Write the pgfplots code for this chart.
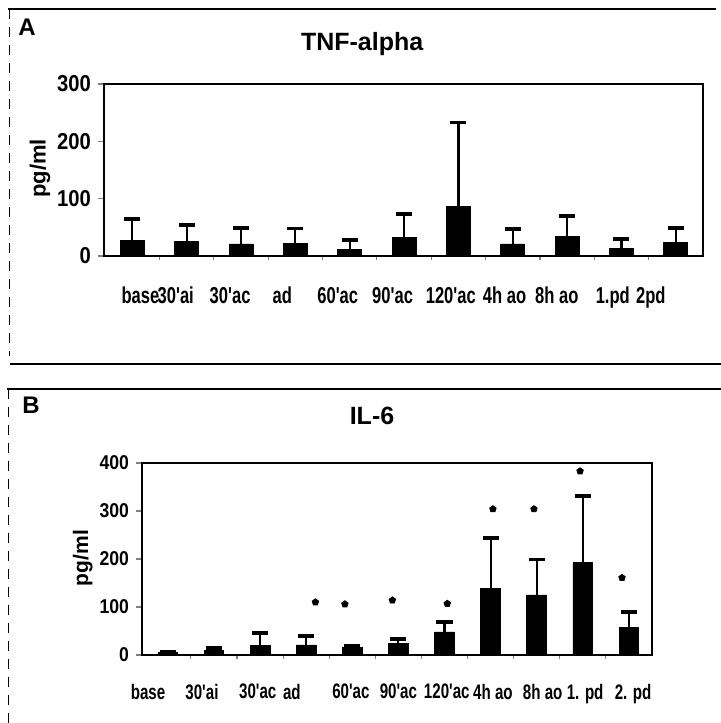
\documentclass[border=0pt]{standalone}
\usepackage{fontspec}
\setmainfont{Liberation Sans}
\newfontfamily\xtickfont{Liberation Sans}[FakeStretch=0.72]
\newfontfamily\ytickfont{Liberation Sans}[FakeStretch=0.88]
\usepackage{pgfplots}
\pgfplotsset{compat=1.18}

\pgfplotsset{
  every axis title shift=0pt,
  panel/.style={
    scale only axis, anchor=south west,
    ymin=0, tick align=outside, ytick pos=left, xtick pos=bottom,
    major x tick style={draw=none},
    major tick length=3pt, minor tick length=2pt,
    minor xtick={0.5,1.5,...,9.5},
    axis line style={line width=1.1pt},
    tick style={line width=0.6pt},
    /pgf/number format/assume math mode=true,
    title style={anchor=center, font=\bfseries\fontsize{12.5}{13}\selectfont},
    ylabel style={anchor=center, font=\bfseries\fontsize{11}{12}\selectfont},
  },
  meanbar/.style={ybar, bar shift=0pt, fill=black, draw=black,
    error bars/.cd, y dir=plus, y explicit,
    error bar style={line width=1.1pt},
    error mark options={rotate=90, mark size=4pt, line width=1.9pt},
    /pgfplots/.cd},
}

\begin{document}
\begin{tikzpicture}
\useasboundingbox (0,0) rectangle (360.5pt,361.5pt);

% frame lines and panel letters, in pixel units of the original
\begin{scope}[x=0.5pt, y=-0.5pt, shift={(0pt,361.5pt)}]
  \draw[line width=0.6pt] (8,9) -- (716,9);
  \draw[line width=0.4pt, dash pattern=on 5pt off 4pt] (9,9) -- (9,356);
  \draw[line width=0.9pt] (10,364) -- (721,364);
  \draw[line width=0.9pt] (7,389) -- (721,389);
  \draw[line width=0.4pt, dash pattern=on 5pt off 4pt] (8,389) -- (8,723);
  \node[font=\bfseries\fontsize{12}{12}\selectfont] at (27,27) {A};
  \node[font=\bfseries\fontsize{12}{12}\selectfont] at (31,405) {B};
\end{scope}

% panel A: TNF-alpha
\begin{axis}[panel,
  at={(52pt,233.5pt)}, width=299.5pt, height=86pt,
  xmin=-0.52, xmax=10.5, ymax=300, ytick={0,100,200,300},
  xtick={0.15,0.80,1.80,2.76,3.78,4.79,5.86,6.85,7.81,8.84,9.54},
  xticklabels={base,30'ai,30'ac,ad,60'ac,90'ac,120'ac,4h ao,8h ao,1.pd,2pd},
  xticklabel style={font=\xtickfont\bfseries\fontsize{11.5}{12}\selectfont, yshift=-9pt},
  yticklabel style={font=\ytickfont\bfseries\fontsize{11.5}{12}\selectfont},
  title={TNF-alpha}, title style={at={(axis description cs:0.431,1.233)}},
  ylabel={pg/ml}, ylabel style={at={(axis description cs:-0.107,0.51)}},
]
\addplot[meanbar, bar width=0.44] coordinates {
  (0,27) +- (0,38)
  (1,25) +- (0,29)
  (2,21) +- (0,28)
  (3,22) +- (0,26)
  (4,12) +- (0,16)
  (5,33) +- (0,40)
  (6,86) +- (0,147)
  (7,21) +- (0,26)
  (8,34) +- (0,36)
  (9,13) +- (0,17)
  (10,24) +- (0,25)
};
\end{axis}

% panel B: IL-6
\begin{axis}[panel,
  at={(71pt,34pt)}, width=255pt, height=96pt,
  xmin=-0.56, xmax=10.5, ymax=400, ytick={0,100,200,300,400},
  xtick={-0.43,0.74,1.95,2.69,3.97,5.0,6.05,7.05,8.13,9.05,10.09},
  xticklabels={base,30'ai,30'ac,ad,60'ac,90'ac,120'ac,4h ao,8h ao,1. pd,2. pd},
  xticklabel style={font=\xtickfont\bfseries\fontsize{10.5}{11}\selectfont, yshift=-8pt},
  yticklabel style={font=\ytickfont\bfseries\fontsize{10}{11}\selectfont},
  title={IL-6}, title style={at={(axis description cs:0.451,1.245)}},
  ylabel={pg/ml}, ylabel style={at={(axis description cs:-0.116,0.505)},
    font=\bfseries\fontsize{10.5}{11}\selectfont},
]
\addplot[meanbar, bar width=0.43] coordinates {
  (0,5.5) +- (0,2)
  (1,10) +- (0,4)
  (2,19) +- (0,26)
  (3,21) +- (0,19)
  (4,16) +- (0,3)
  (5,24) +- (0,9)
  (6,48) +- (0,20)
  (7,139) +- (0,104)
  (8,125) +- (0,74)
  (9,192) +- (0,140)
  (10,58) +- (0,31)
};
\addplot[only marks, mark=pentagon*, mark size=1.7pt,
  mark options={fill=black, draw=black}] coordinates {
  (3.2,110) (3.84,106) (4.87,114) (6.06,107)
  (7.05,304) (7.94,304) (8.94,383) (9.85,161)
};
\end{axis}
\end{tikzpicture}
\end{document}
